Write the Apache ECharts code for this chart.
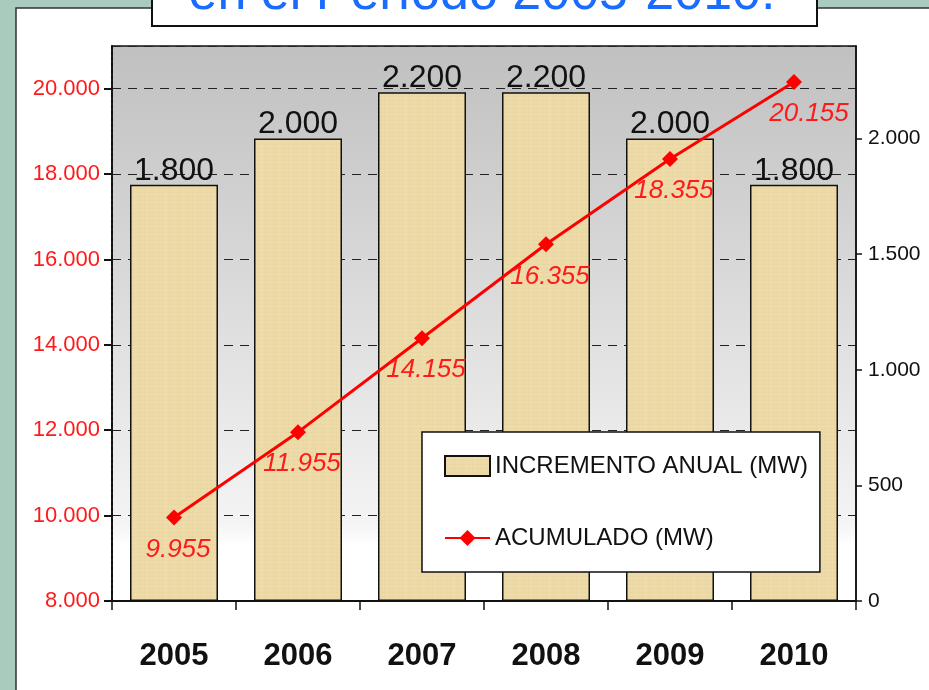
<!DOCTYPE html>
<html>
<head>
<meta charset="utf-8">
<script src="https://cdn.jsdelivr.net/npm/echarts@6/dist/echarts.min.js"></script>
<style>
html,body{margin:0;padding:0;background:#a9cbbd;}
#c{width:929px;height:690px;}
</style>
</head>
<body>
<div id="c"></div>
<script>
const years = ['2005','2006','2007','2008','2009','2010'];
const incremento = [1800, 2000, 2200, 2200, 2000, 1800];
const acumulado = [9955, 11955, 14155, 16355, 18355, 20155];
const titleText = 'en el Período 2005-2010.';
const seriesNames = ['INCREMENTO ANUAL (MW)', 'ACUMULADO (MW)'];

function fmt(v){ return String(v).replace(/\B(?=(\d{3})+(?!\d))/g, '.'); }

// papyrus-like texture (deterministic, subtle)
function makeTexture(){
  const c = document.createElement('canvas');
  c.width = 48; c.height = 48;
  const g = c.getContext('2d');
  g.fillStyle = '#eddaa8'; g.fillRect(0,0,48,48);
  const hs = ['#e7d29c','#f1e0b3','#ead5a2','#efdcad'];
  for (let y=0; y<48; y+=2){ g.fillStyle = hs[(y/2)%4]; g.globalAlpha = 0.45; g.fillRect(0,y,48,1); }
  const vs = ['#e5cf98','#f0dfb0','#e9d4a0'];
  for (let x=0; x<48; x+=3){ g.fillStyle = vs[(x/3)%3]; g.globalAlpha = 0.3; g.fillRect(x,0,1,48); }
  g.globalAlpha = 1;
  return c;
}
const tex = makeTexture();

const chart = echarts.init(document.getElementById('c'));
chart.setOption({
  backgroundColor: '#a9cbbd',
  animation: false,
  graphic: [
    { type: 'rect', z: -10, shape: { x: 16, y: 8, width: 930, height: 700 },
      style: { fill: '#ffffff', stroke: '#333333', lineWidth: 1.5 } },
    { type: 'rect', z: 100, shape: { x: 152, y: -6, width: 665, height: 32 },
      style: { fill: '#ffffff', stroke: '#111111', lineWidth: 2 } },
    { type: 'text', z: 101, x: 482, y: -5,
      style: { text: titleText, fill: '#1a6cff', font: '52px "Liberation Sans", Arial, sans-serif',
               textAlign: 'center', textVerticalAlign: 'middle' } }
  ],
  grid: {
    left: 112, right: 73, top: 46, bottom: 89, show: true,
    borderColor: '#111', borderWidth: 1.5,
    backgroundColor: { type: 'linear', x: 0, y: 0, x2: 0, y2: 1,
      colorStops: [ {offset: 0, color: '#c0c0c0'}, {offset: 0.86, color: '#f4f4f4'}, {offset: 0.9, color: '#ffffff'}, {offset: 1, color: '#ffffff'} ] }
  },
  legend: {
    orient: 'vertical', left: 422, top: 432,
    backgroundColor: '#ffffff', borderColor: '#111', borderWidth: 1.5,
    padding: [22, 12, 22, 22], itemGap: 48, itemWidth: 45, itemHeight: 20,
    textStyle: { fontSize: 24, color: '#111', fontFamily: '"Liberation Sans Narrow", "Liberation Sans", Arial, sans-serif' },
    data: [ { name: seriesNames[0], icon: 'rect' }, { name: seriesNames[1] } ]
  },
  xAxis: {
    type: 'category', data: years,
    axisLine: { lineStyle: { color: '#111', width: 2 } },
    axisTick: { show: true, length: 9, lineStyle: { color: '#111', width: 1.5 } },
    axisLabel: { fontSize: 31, fontWeight: 'bold', color: '#111', margin: 40, fontFamily: '"Liberation Sans", Arial, sans-serif' }
  },
  yAxis: [
    { type: 'value', min: 8000, max: 21000, interval: 2000, position: 'left',
      axisLine: { show: true, lineStyle: { color: '#111', width: 2, type: [4, 2] } },
      axisTick: { show: true, length: 8, lineStyle: { color: '#111', width: 2 } },
      axisLabel: { color: '#ff1a1a', fontSize: 22, margin: 12, showMaxLabel: false,
        fontFamily: '"Liberation Sans", Arial, sans-serif',
        formatter: v => v > 20000 ? '' : fmt(v) },
      splitLine: { show: true, lineStyle: { color: '#222', type: [9, 7], width: 1 } } },
    { type: 'value', min: 0, max: 2400, interval: 500, position: 'right',
      axisLine: { show: true, lineStyle: { color: '#111', width: 1.5 } },
      axisTick: { show: true, length: 6, lineStyle: { color: '#111', width: 1.5 } },
      axisLabel: { color: '#111', fontSize: 21, margin: 12, showMaxLabel: false,
        fontFamily: '"Liberation Sans", Arial, sans-serif',
        formatter: v => v > 2000 ? '' : fmt(v) },
      splitLine: { show: false } }
  ],
  series: [
    { name: seriesNames[0], type: 'bar', yAxisIndex: 1, barWidth: 88, z: 2,
      data: incremento,
      itemStyle: { color: { image: tex, repeat: 'repeat' }, borderColor: '#111', borderWidth: 1.5 },
      label: { show: true, position: 'top', distance: -2, fontSize: 32, color: '#111',
        fontFamily: '"Liberation Sans", Arial, sans-serif', formatter: p => fmt(p.value) } },
    { name: seriesNames[1], type: 'line', yAxisIndex: 0, z: 5,
      data: acumulado.map((v, i) => i === acumulado.length - 1 ? { value: v, label: { offset: [15, 0] } } : v),
      symbol: 'diamond', symbolSize: 16,
      lineStyle: { color: '#ff0000', width: 3 }, itemStyle: { color: '#ff0000' },
      label: { show: true, position: 'bottom', distance: 11, offset: [4, 0], fontSize: 26, fontStyle: 'italic',
        color: '#ff1a1a', fontFamily: '"Liberation Sans Narrow", "Liberation Sans", Arial, sans-serif',
        formatter: p => fmt(p.value) } }
  ]
});
</script>
</body>
</html>
